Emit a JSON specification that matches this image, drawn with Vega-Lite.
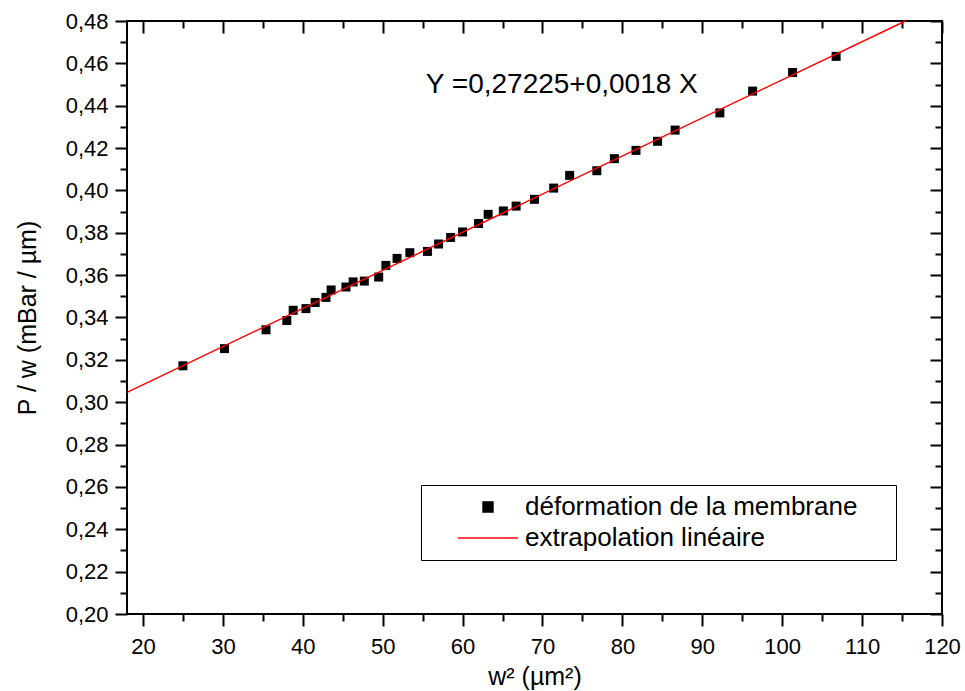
{
  "$schema": "https://vega.github.io/schema/vega-lite/v6.json",
  "width": 815,
  "height": 593,
  "autosize": {"type": "none"},
  "padding": {"left": 127, "top": 21, "right": 23, "bottom": 77},
  "background": "white",
  "config": {
    "font": "Liberation Sans",
    "view": {"stroke": "black", "strokeWidth": 2},
    "axis": {
      "grid": false,
      "domain": false,
      "tickColor": "black",
      "tickWidth": 2,
      "labelColor": "black",
      "labelFont": "Liberation Sans",
      "labelFontSize": 22,
      "labelFlush": false,
      "labelOverlap": false,
      "titleFont": "Liberation Sans",
      "titleFontWeight": "normal",
      "titleColor": "black",
      "titleFontSize": 25
    },
    "legend": {"symbolStrokeWidth": 1.4}
  },
  "datasets": {
    "measures": [
      {"w2": 25.0, "pw": 0.3172, "series": "déformation de la membrane"},
      {"w2": 30.2, "pw": 0.3253, "series": "déformation de la membrane"},
      {"w2": 35.4, "pw": 0.3342, "series": "déformation de la membrane"},
      {"w2": 38.0, "pw": 0.3386, "series": "déformation de la membrane"},
      {"w2": 38.8, "pw": 0.3434, "series": "déformation de la membrane"},
      {"w2": 40.4, "pw": 0.3442, "series": "déformation de la membrane"},
      {"w2": 41.55, "pw": 0.3471, "series": "déformation de la membrane"},
      {"w2": 42.9, "pw": 0.3495, "series": "déformation de la membrane"},
      {"w2": 43.55, "pw": 0.353, "series": "déformation de la membrane"},
      {"w2": 45.4, "pw": 0.3544, "series": "déformation de la membrane"},
      {"w2": 46.3, "pw": 0.3568, "series": "déformation de la membrane"},
      {"w2": 47.7, "pw": 0.3572, "series": "déformation de la membrane"},
      {"w2": 49.5, "pw": 0.3591, "series": "déformation de la membrane"},
      {"w2": 50.4, "pw": 0.3646, "series": "déformation de la membrane"},
      {"w2": 51.8, "pw": 0.3679, "series": "déformation de la membrane"},
      {"w2": 53.4, "pw": 0.3706, "series": "déformation de la membrane"},
      {"w2": 55.6, "pw": 0.3712, "series": "déformation de la membrane"},
      {"w2": 57.0, "pw": 0.3747, "series": "déformation de la membrane"},
      {"w2": 58.5, "pw": 0.3778, "series": "déformation de la membrane"},
      {"w2": 60.0, "pw": 0.3804, "series": "déformation de la membrane"},
      {"w2": 62.0, "pw": 0.3844, "series": "déformation de la membrane"},
      {"w2": 63.2, "pw": 0.3887, "series": "déformation de la membrane"},
      {"w2": 65.1, "pw": 0.3903, "series": "déformation de la membrane"},
      {"w2": 66.7, "pw": 0.3926, "series": "déformation de la membrane"},
      {"w2": 69.0, "pw": 0.3958, "series": "déformation de la membrane"},
      {"w2": 71.4, "pw": 0.4011, "series": "déformation de la membrane"},
      {"w2": 73.4, "pw": 0.4071, "series": "déformation de la membrane"},
      {"w2": 76.8, "pw": 0.4093, "series": "déformation de la membrane"},
      {"w2": 79.0, "pw": 0.415, "series": "déformation de la membrane"},
      {"w2": 81.7, "pw": 0.4189, "series": "déformation de la membrane"},
      {"w2": 84.4, "pw": 0.4232, "series": "déformation de la membrane"},
      {"w2": 86.6, "pw": 0.4285, "series": "déformation de la membrane"},
      {"w2": 92.2, "pw": 0.4366, "series": "déformation de la membrane"},
      {"w2": 96.3, "pw": 0.4469, "series": "déformation de la membrane"},
      {"w2": 101.3, "pw": 0.4557, "series": "déformation de la membrane"},
      {"w2": 106.75, "pw": 0.4633, "series": "déformation de la membrane"}
    ],
    "fit": [
      {"w2": 18, "pw": 0.30465, "series": "extrapolation linéaire"},
      {"w2": 115.42, "pw": 0.48, "series": "extrapolation linéaire"}
    ],
    "equation": [
      {"label": "Y =0,27225+0,0018 X"}
    ]
  },
  "resolve": {"axis": {"x": "independent", "y": "independent"}},
  "layer": [
    {
      "data": {"name": "measures"},
      "mark": {"type": "point", "filled": true, "size": 81, "opacity": 1},
      "encoding": {
        "x": {
          "field": "w2", "type": "quantitative",
          "scale": {"domain": [18, 120], "nice": false, "zero": false},
          "axis": {"orient": "bottom", "values": [20, 30, 40, 50, 60, 70, 80, 90, 100, 110, 120], "tickSize": 12, "labelPadding": 10, "title": "w² (µm²)", "titlePadding": 7}
        },
        "y": {
          "field": "pw", "type": "quantitative",
          "scale": {"domain": [0.2, 0.48], "nice": false, "zero": false},
          "axis": {"orient": "left", "values": [0.2, 0.22, 0.24, 0.26, 0.28, 0.3, 0.32, 0.34, 0.36, 0.38, 0.4, 0.42, 0.44, 0.46, 0.48], "tickSize": 12, "labelPadding": 7, "labelExpr": "replace(format(datum.value, '.2f'), '.', ',')", "title": "P / w (mBar / µm)", "titlePadding": 25}
        },
        "shape": {
          "field": "series", "type": "nominal",
          "scale": {"domain": ["déformation de la membrane", "extrapolation linéaire"], "range": ["square", "M-6,0H6"]},
          "legend": null
        },
        "color": {
          "field": "series", "type": "nominal",
          "scale": {"domain": ["déformation de la membrane", "extrapolation linéaire"], "range": ["black", "red"]},
          "legend": {
            "orient": "none", "legendX": 294, "legendY": 464,
            "title": "\u00a0", "titleOrient": "right", "titlePadding": 30, "titleFontSize": 1, "titleColor": "white",
            "padding": 9,
            "strokeColor": "black", "fillColor": "white",
            "symbolSize": 100, "symbolOffset": 45, "labelOffset": 24,
            "labelFont": "Liberation Sans", "labelFontSize": 26, "labelColor": "black", "labelLimit": 800,
            "rowPadding": 5
          }
        }
      }
    },
    {
      "data": {"name": "fit"},
      "mark": {"type": "line", "strokeWidth": 1.4},
      "encoding": {
        "x": {
          "field": "w2", "type": "quantitative",
          "axis": {"orient": "bottom", "values": [25, 35, 45, 55, 65, 75, 85, 95, 105, 115], "tickSize": 7, "labels": false, "title": null}
        },
        "y": {
          "field": "pw", "type": "quantitative",
          "axis": {"orient": "left", "values": [0.21, 0.23, 0.25, 0.27, 0.29, 0.31, 0.33, 0.35, 0.37, 0.39, 0.41, 0.43, 0.45, 0.47], "tickSize": 7, "labels": false, "title": null}
        },
        "color": {"field": "series", "type": "nominal"}
      }
    },
    {
      "data": {"name": "equation"},
      "mark": {"type": "text", "align": "left", "baseline": "alphabetic", "font": "Liberation Sans", "fontSize": 28, "color": "black"},
      "encoding": {
        "text": {"field": "label"},
        "x": {"datum": 55.4, "type": "quantitative", "axis": {"orient": "top", "values": [20, 30, 40, 50, 60, 70, 80, 90, 100, 110, 120], "tickSize": 12, "offset": -12, "labels": false, "title": null}},
        "y": {"datum": 0.446, "type": "quantitative", "axis": {"orient": "right", "values": [0.2, 0.22, 0.24, 0.26, 0.28, 0.3, 0.32, 0.34, 0.36, 0.38, 0.4, 0.42, 0.44, 0.46, 0.48], "tickSize": 12, "offset": -12, "labels": false, "title": null}}
      }
    },
    {
      "data": {"name": "equation"},
      "mark": {"type": "text", "text": "", "opacity": 0},
      "encoding": {
        "x": {"datum": 55.4, "type": "quantitative", "axis": {"orient": "top", "values": [25, 35, 45, 55, 65, 75, 85, 95, 105, 115], "tickSize": 7, "offset": -7, "labels": false, "title": null}},
        "y": {"datum": 0.446, "type": "quantitative", "axis": {"orient": "right", "values": [0.21, 0.23, 0.25, 0.27, 0.29, 0.31, 0.33, 0.35, 0.37, 0.39, 0.41, 0.43, 0.45, 0.47], "tickSize": 7, "offset": -7, "labels": false, "title": null}}
      }
    }
  ]
}
